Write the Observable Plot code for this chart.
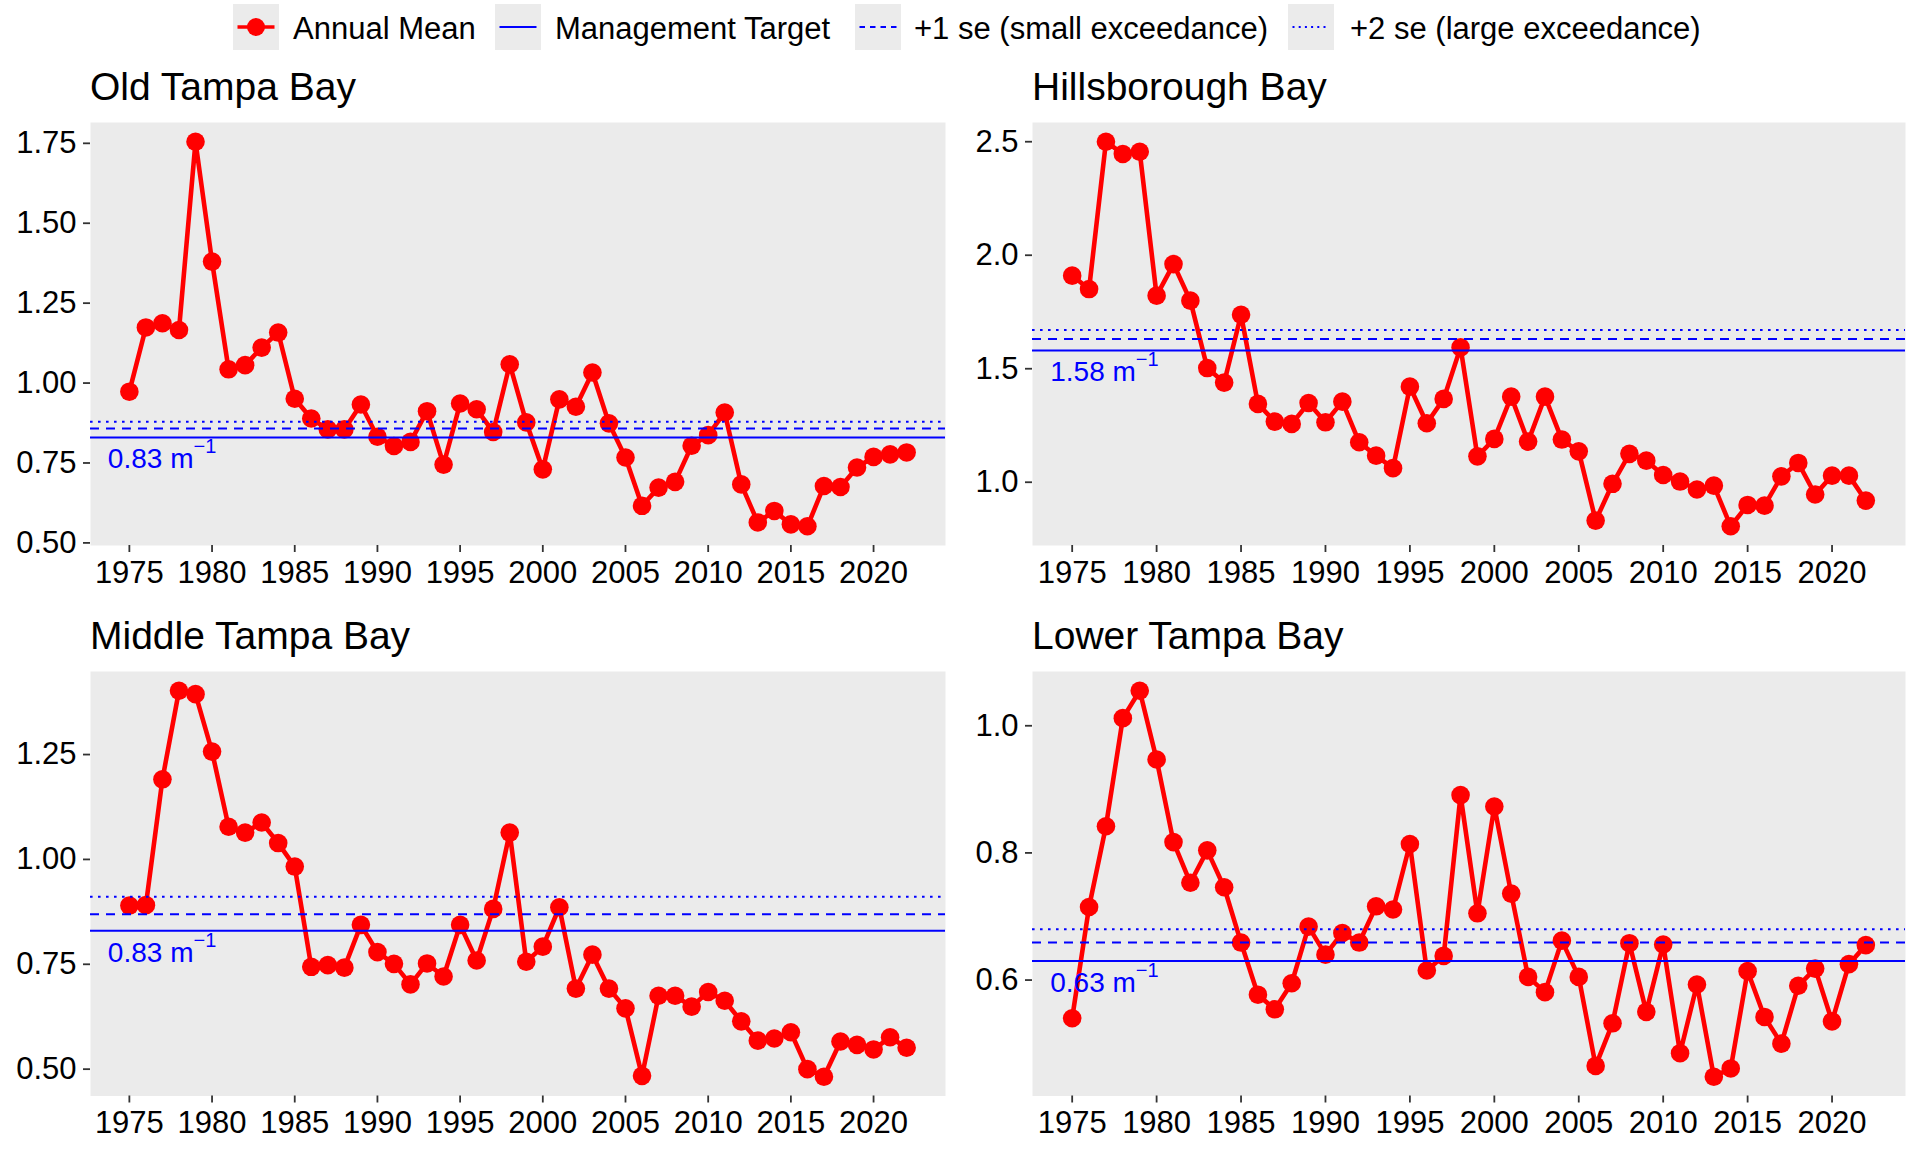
<!DOCTYPE html>
<html><head><meta charset="utf-8">
<script src="https://cdn.jsdelivr.net/npm/d3@7"></script>
<script src="https://cdn.jsdelivr.net/npm/@observablehq/plot@0.6"></script>
<style>
body{margin:0;background:#fff;}
#root{position:relative;width:1920px;height:1152px;font-family:"Liberation Sans",Arial,sans-serif;overflow:hidden;background:#fff;}
.title{position:absolute;font-size:39px;line-height:1;color:#000;white-space:nowrap;}
.lkey{position:absolute;top:4px;width:46px;height:46px;background:#EBEBEB;}
.lkey svg{display:block;}
.ltext{position:absolute;top:13px;font-size:31px;line-height:1;white-space:nowrap;color:#000;}
.panel{position:absolute;}
</style></head>
<body><div id="root"></div>
<script>
// ---- data ----
const years = [1975,1976,1977,1978,1979,1980,1981,1982,1983,1984,1985,1986,1987,1988,1989,1990,1991,1992,1993,1994,1995,1996,1997,1998,1999,2000,2001,2002,2003,2004,2005,2006,2007,2008,2009,2010,2011,2012,2013,2014,2015,2016,2017,2018,2019,2020,2021,2022];
const segments = ["Old Tampa Bay","Hillsborough Bay","Middle Tampa Bay","Lower Tampa Bay"];
const oldTampa = [0.973,1.174,1.187,1.166,1.755,1.380,1.043,1.056,1.111,1.158,0.951,0.889,0.855,0.855,0.933,0.832,0.803,0.816,0.912,0.745,0.936,0.918,0.847,1.059,0.877,0.730,0.949,0.926,1.033,0.874,0.767,0.616,0.673,0.691,0.804,0.837,0.908,0.683,0.564,0.600,0.558,0.552,0.678,0.675,0.736,0.769,0.777,0.783];
const hillsborough = [1.910,1.851,2.500,2.446,2.456,1.822,1.961,1.800,1.503,1.439,1.738,1.345,1.267,1.257,1.349,1.264,1.355,1.176,1.117,1.062,1.421,1.260,1.367,1.594,1.114,1.191,1.377,1.179,1.377,1.188,1.136,0.831,0.993,1.125,1.095,1.032,1.003,0.968,0.985,0.806,0.900,0.897,1.026,1.085,0.946,1.029,1.029,0.919];
const middleTampa = [0.890,0.891,1.191,1.402,1.394,1.257,1.078,1.064,1.088,1.039,0.983,0.744,0.748,0.742,0.844,0.779,0.751,0.702,0.752,0.721,0.844,0.759,0.882,1.064,0.756,0.792,0.886,0.692,0.773,0.692,0.645,0.484,0.675,0.675,0.649,0.684,0.663,0.614,0.568,0.573,0.588,0.500,0.482,0.566,0.558,0.547,0.576,0.551];
const lowerTampa = [0.540,0.715,0.842,1.012,1.055,0.947,0.817,0.753,0.804,0.746,0.659,0.577,0.554,0.595,0.684,0.640,0.674,0.659,0.716,0.711,0.814,0.615,0.638,0.891,0.705,0.873,0.736,0.605,0.581,0.662,0.605,0.465,0.532,0.658,0.550,0.656,0.485,0.593,0.448,0.461,0.614,0.542,0.500,0.591,0.618,0.535,0.625,0.655];
const targets = [0.83, 1.58, 0.83, 0.63];
const smallExceed = [0.858, 1.631, 0.869, 0.659];
const largeExceed = [0.879, 1.671, 0.911, 0.680];
const xTicks = [1975,1980,1985,1990,1995,2000,2005,2010,2015,2020];
const yTicksOld = [0.50,0.75,1.00,1.25,1.50,1.75];
const yTicksHills = [1.0,1.5,2.0,2.5];
const yTicksMiddle = [0.50,0.75,1.00,1.25];
const yTicksLower = [0.6,0.8,1.0];
const legendLabels = ["Annual Mean","Management Target","+1 se (small exceedance)","+2 se (large exceedance)"];

const root = document.getElementById("root");
const FONT = "'Liberation Sans', Arial, sans-serif";

// ---- legend ----
const keyLefts = [233, 494.5, 855, 1288];
const textLefts = [293, 555, 914, 1350];
const keySvgs = [
  `<svg width="46" height="46"><line x1="4.5" x2="41.5" y1="23" y2="23" stroke="#FF0000" stroke-width="3.5"/><circle cx="23" cy="23" r="9" fill="#FF0000"/></svg>`,
  `<svg width="46" height="46"><line x1="4.5" x2="41.5" y1="23" y2="23" stroke="#0000FF" stroke-width="2"/></svg>`,
  `<svg width="46" height="46"><line x1="4.5" x2="41.5" y1="23" y2="23" stroke="#0000FF" stroke-width="2" stroke-dasharray="5.5,5"/></svg>`,
  `<svg width="46" height="46"><line x1="4.5" x2="41.5" y1="23" y2="23" stroke="#0000FF" stroke-width="2" stroke-dasharray="2,4.2"/></svg>`
];
legendLabels.forEach((lab, i) => {
  const k = document.createElement("div");
  k.className = "lkey"; k.style.left = keyLefts[i] + "px"; k.innerHTML = keySvgs[i];
  root.appendChild(k);
  const t = document.createElement("div");
  t.className = "ltext"; t.style.left = textLefts[i] + "px"; t.textContent = lab;
  root.appendChild(t);
});

// ---- panels ----
function panel(idx, values, yTicks, yFmt, svgLeft, svgTop, mL, frameBottom, titleTop) {
  const data = years.map((yr, i) => ({year: yr, value: values[i]}));
  const ext = d3.extent(values);
  const pad = (ext[1] - ext[0]) * 0.05;
  const xext = d3.extent(years);
  const xpad = (xext[1] - xext[0]) * 0.05;
  const target = targets[idx];
  const label = target.toFixed(2) + " m";
  const width = 960, height = 490, mT = 12, mR = 15;
  const mB = svgTop + height - frameBottom;
  const plot = Plot.plot({
    width, height, marginLeft: mL, marginRight: mR, marginTop: mT, marginBottom: mB,
    style: {fontFamily: FONT, fontSize: "31px", background: "transparent", color: "#000", overflow: "visible"},
    x: {domain: [xext[0] - xpad, xext[1] + xpad]},
    y: {domain: [ext[0] - pad, ext[1] + pad]},
    marks: [
      Plot.frame({fill: "#EBEBEB", stroke: null}),
      Plot.line(data, {x: "year", y: "value", stroke: "#FF0000", strokeWidth: 4.6}),
      Plot.dot(data, {x: "year", y: "value", r: 9.3, fill: "#FF0000", stroke: null}),
      Plot.ruleY([largeExceed[idx]], {stroke: "#0000FF", strokeWidth: 2, strokeDasharray: "2.6,5.4"}),
      Plot.ruleY([smallExceed[idx]], {stroke: "#0000FF", strokeWidth: 2, strokeDasharray: "9,7"}),
      Plot.ruleY([target], {stroke: "#0000FF", strokeWidth: 2}),
      Plot.text([label], {x: 1973.7, y: target, text: d => d, textAnchor: "start", lineAnchor: "top", dy: 11, fill: "#0000FF", fontSize: 28}),
      Plot.axisX({ticks: xTicks, tickFormat: d => String(d), tickSize: 7, tickPadding: 8, stroke: "#333333", strokeWidth: 1.8, fill: "#000", fontSize: 31, label: null}),
      Plot.axisY({ticks: yTicks, tickFormat: yFmt, tickSize: 7, tickPadding: 7, stroke: "#333333", strokeWidth: 1.8, fill: "#000", fontSize: 31, label: null})
    ]
  });
  plot.querySelectorAll("text").forEach(t => {
    if (t.textContent === label) {
      const ts = document.createElementNS("http://www.w3.org/2000/svg", "tspan");
      ts.setAttribute("dy", "-15");
      ts.setAttribute("font-size", "20");
      ts.textContent = "\u22121";
      t.appendChild(ts);
    }
  });
  const wrap = document.createElement("div");
  wrap.className = "panel";
  wrap.style.left = svgLeft + "px";
  wrap.style.top = svgTop + "px";
  wrap.appendChild(plot);
  root.appendChild(wrap);

  const title = document.createElement("div");
  title.className = "title";
  title.textContent = segments[idx];
  title.style.left = (svgLeft + mL) + "px";
  title.style.top = titleTop + "px";
  root.appendChild(title);
}

const f2 = d => d.toFixed(2), f1 = d => d.toFixed(1);
panel(0, oldTampa, yTicksOld, f2, 0, 110, 90, 545, 67);
panel(1, hillsborough, yTicksHills, f1, 960, 110, 72, 545, 67);
panel(2, middleTampa, yTicksMiddle, f2, 0, 658.5, 90, 1095, 616);
panel(3, lowerTampa, yTicksLower, f1, 960, 658.5, 72, 1095, 616);
</script>
</body></html>
